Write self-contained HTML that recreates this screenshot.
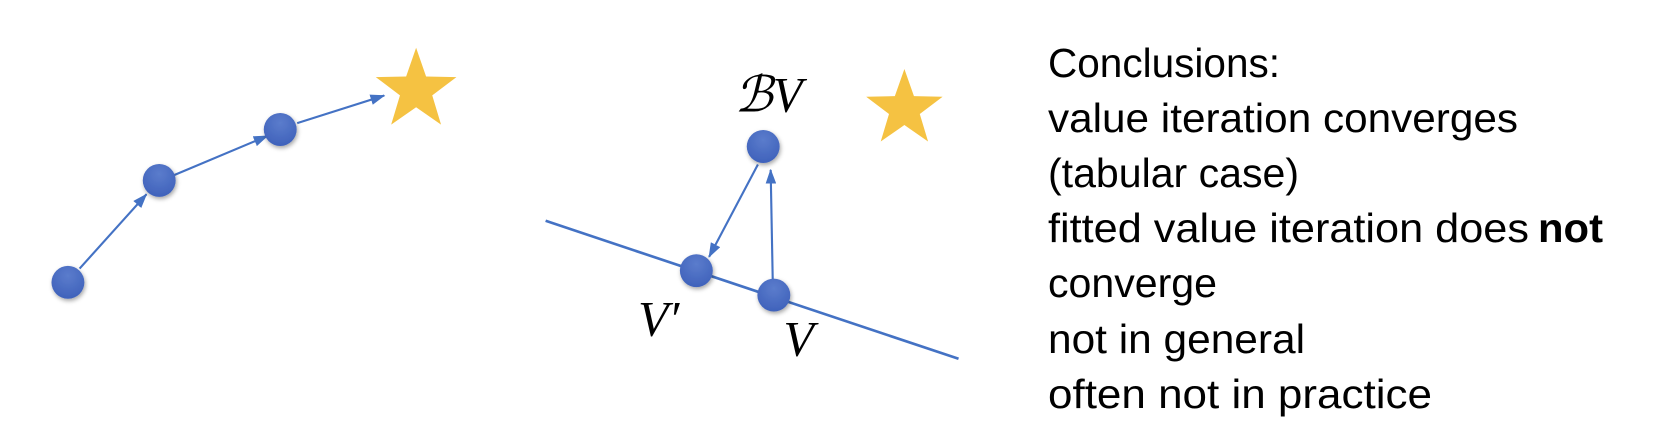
<!DOCTYPE html>
<html><head><style>body{margin:0;background:#fff}svg{display:block}</style></head><body>
<svg width="1656" height="442" viewBox="0 0 1656 442" xmlns="http://www.w3.org/2000/svg">
<defs>
<radialGradient id="g" cx="50%" cy="30%" r="70%"><stop offset="0" stop-color="#5b7ccc"/><stop offset="1" stop-color="#3f62bb"/></radialGradient>
<filter id="s" x="-50%" y="-50%" width="200%" height="200%"><feDropShadow dx="1" dy="2" stdDeviation="2" flood-color="#000" flood-opacity="0.35"/></filter>
<marker id="b" markerWidth="14" markerHeight="10" refX="13" refY="5" orient="auto" markerUnits="userSpaceOnUse"><path d="M0,0 L14,5 L0,10 z" fill="#4472c4"/></marker>
</defs>
<g transform="scale(1.0615)">
<g stroke="#4472c4" stroke-width="2" fill="none">
<line x1="75" y1="253" x2="138" y2="183" marker-end="url(#b)"/>
<line x1="164" y1="165" x2="252" y2="128" marker-end="url(#b)"/>
<line x1="280" y1="116" x2="362" y2="90" marker-end="url(#b)"/>
<line x1="514" y1="208" x2="903" y2="338" stroke-width="2.5"/>
<line x1="714" y1="155" x2="668" y2="242" marker-end="url(#b)"/>
<line x1="728" y1="266" x2="726" y2="160" marker-end="url(#b)"/>
</g>
<g fill="url(#g)" filter="url(#s)">
<circle cx="64" cy="266" r="15.5"/><circle cx="150" cy="170" r="15.5"/><circle cx="264" cy="122" r="15.5"/>
<circle cx="719" cy="138" r="15.5"/><circle cx="656" cy="255" r="15.5"/><circle cx="729" cy="278" r="15.5"/>
</g>
<g fill="#f5c242">
<polygon points="392,45 401.4,72.1 430,72.6 407.2,89.9 415.5,117.4 392,101 368.5,117.4 376.8,89.9 354,72.6 382.6,72.1"/>
<polygon points="852,65 861,90.6 888,91.2 866.5,107.4 874.3,133.3 852,117.8 829.7,133.3 837.5,107.4 816,91.2 843,90.6"/>
</g>
<g font-family="Liberation Serif, serif" font-style="italic" font-size="47" fill="#000">
<text x="692" y="105" textLength="64" lengthAdjust="spacingAndGlyphs">ℬV</text>
<text x="601" y="316">V′</text>
<text x="738" y="335">V</text>
</g>
</g>
<g font-family="Liberation Sans, sans-serif" font-size="41" fill="#000">
<text x="1048" y="77" textLength="232" lengthAdjust="spacingAndGlyphs">Conclusions:</text>
<text x="1048" y="132" textLength="470" lengthAdjust="spacingAndGlyphs">value iteration converges</text>
<text x="1048" y="187" textLength="251" lengthAdjust="spacingAndGlyphs">(tabular case)</text>
<text x="1048" y="242" textLength="481" lengthAdjust="spacingAndGlyphs">fitted value iteration does</text>
<text x="1538" y="242" font-weight="bold" textLength="65" lengthAdjust="spacingAndGlyphs">not</text>
<text x="1048" y="297" textLength="169" lengthAdjust="spacingAndGlyphs">converge</text>
<text x="1048" y="353" textLength="257" lengthAdjust="spacingAndGlyphs">not in general</text>
<text x="1048" y="408" textLength="384" lengthAdjust="spacingAndGlyphs">often not in practice</text>
</g>
</svg>
</body></html>
